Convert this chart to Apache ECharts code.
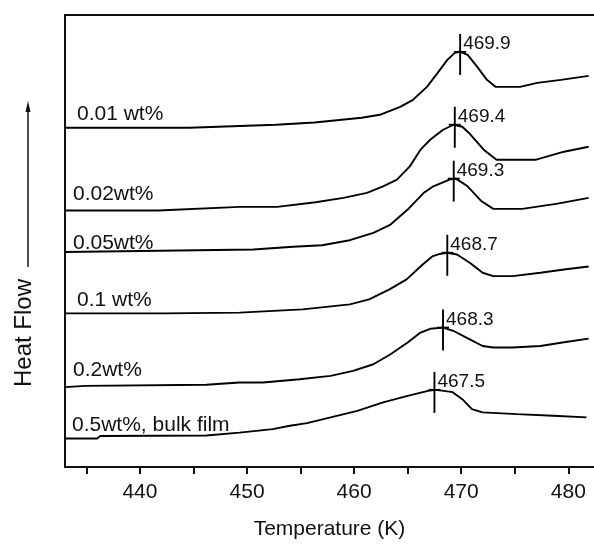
<!DOCTYPE html>
<html>
<head>
<meta charset="utf-8">
<script src="https://cdn.jsdelivr.net/npm/echarts@6/dist/echarts.min.js"></script>
<style>
  html, body { margin: 0; padding: 0; background: #fff; }
  #chart { width: 594px; height: 545px; }
</style>
</head>
<body>
<div id="chart"></div>
<script>
    // DSC traces, temperature (K) vs heat flow (arbitrary units, offset per trace)
    var curveNames = ['0.01 wt%', '0.02wt%', '0.05wt%', '0.1 wt%', '0.2wt%', '0.5wt%, bulk film'];

    var temp1 = [433.0, 444.6, 452.7, 456.3, 460.7, 462.4, 464.3, 465.5, 466.8, 467.8, 468.7, 469.4, 469.9, 470.6, 471.5, 472.4, 473.2, 475.5, 477.1, 479.3, 481.9];
    var flow1 = [340, 340, 343, 345.3, 350, 353, 361, 368, 381, 395, 408, 415, 416, 413, 401, 388, 381, 381, 385, 388, 392];

    var temp2 = [433.0, 441.7, 449.3, 452.8, 456.4, 459.0, 461.2, 462.7, 464.0, 465.2, 466.2, 467.1, 468.3, 469.3, 470.1, 470.7, 472.1, 473.3, 477.0, 479.6, 481.9];
    var flow2 = [257, 257, 260.7, 260.7, 265.3, 269.7, 274.7, 281.3, 288, 301.3, 318, 328, 338, 343, 341, 335, 318, 308, 308, 316, 321];

    var temp3 = [433.0, 450.6, 454.3, 457.0, 459.6, 461.8, 463.4, 465.0, 466.5, 467.4, 468.9, 469.5, 470.6, 471.9, 473.0, 475.7, 479.0, 481.9];
    var flow3 = [215.5, 218, 220.7, 222.3, 227.3, 234.7, 243, 258, 274.7, 281.3, 288, 289, 281.3, 266.3, 258.7, 258.7, 264, 269.7];

    var temp4 = [433.0, 442.3, 449.3, 455.2, 459.6, 461.4, 463.3, 464.9, 466.4, 467.3, 468.0, 468.7, 469.6, 470.8, 472.0, 473.0, 474.8, 477.4, 479.6, 481.9];
    var flow4 = [154, 154, 154.7, 158, 163, 168, 178, 188, 203, 211, 213.5, 214.7, 213, 204.7, 194.7, 191.3, 191.3, 194.7, 198, 201];

    var temp5 = [433.0, 434.9, 446.2, 449.3, 451.5, 454.9, 457.8, 459.9, 461.8, 463.4, 465.0, 466.2, 467.1, 468.3, 469.3, 470.8, 472.0, 473.0, 474.8, 477.4, 479.6, 481.9];
    var flow5 = [80, 81.3, 82.5, 84.7, 84.7, 88, 91.3, 96.3, 103, 113, 124.7, 134.7, 138.5, 139.7, 136.3, 128, 121.3, 119.7, 119.7, 121.3, 125, 128.7];

    var temp6 = [433.0, 436.0, 436.3, 446.2, 449.3, 452.4, 454.0, 455.6, 457.8, 460.3, 462.7, 465.0, 466.9, 467.6, 468.2, 469.2, 470.1, 471.0, 472.0, 475.2, 478.6, 481.7];
    var flow6 = [28.5, 28.5, 31, 31.5, 34.5, 38, 41.3, 44, 49.7, 56.3, 64.7, 71.3, 76.3, 77.3, 76.5, 75, 68, 58, 54.7, 53, 51.3, 49.7];

    // peak temperatures marked with a cross
    var peakTemps = [469.9, 469.4, 469.3, 468.7, 468.3, 467.5];
    var peakFlows = [416, 343, 289, 214.7, 139.7, 77.3];
    var peakLabels = ['469.9', '469.4', '469.3', '468.7', '468.3', '467.5'];

    var xTickValues = [435, 440, 445, 450, 455, 460, 465, 470, 475, 480];
    var xLabelValues = [440, 450, 460, 470, 480];

    var temps = [temp1, temp2, temp3, temp4, temp5, temp6];
    var flows = [flow1, flow2, flow3, flow4, flow5, flow6];

    // where the trace names sit (pixels)
    var namePos = [[77, 114], [73, 194], [73, 243], [77, 300], [73, 370], [72, 425]];

    var chart = echarts.init(document.getElementById('chart'), null, {renderer: 'canvas'});
    var font = '"Liberation Sans", Arial, sans-serif';

    var series = [];
    for (var i = 0; i < temps.length; i++) {
        var d = [];
        for (var j = 0; j < temps[i].length; j++) {
            d.push([temps[i][j], flows[i][j]]);
        }
        series.push({
            name: curveNames[i],
            type: 'line',
            data: d,
            showSymbol: false,
            silent: true,
            lineStyle: {color: '#000', width: 1.9},
            z: 3
        });
    }

    var peakData = [];
    for (var k = 0; k < peakTemps.length; k++) {
        peakData.push([peakTemps[k], peakFlows[k]]);
    }
    series.push({
        type: 'custom',
        data: peakData,
        z: 4,
        renderItem: function (params, api) {
            var p = api.coord([api.value(0), api.value(1)]);
            return {
                type: 'group',
                children: [
                    {type: 'line', shape: {x1: p[0], y1: p[1] - 18, x2: p[0], y2: p[1] + 23},
                        style: {stroke: '#000', lineWidth: 1.9}},
                    {type: 'line', shape: {x1: p[0] - 6, y1: p[1], x2: p[0] + 6, y2: p[1]},
                        style: {stroke: '#000', lineWidth: 1.9}},
                    {type: 'text', style: {text: peakLabels[params.dataIndex], x: p[0] + 3, y: p[1] - 8,
                        align: 'left', verticalAlign: 'middle', fill: '#111',
                        fontSize: 19, fontFamily: font}}
                ]
            };
        }
    });

    var graphics = [];
    for (var n = 0; n < curveNames.length; n++) {
        graphics.push({
            type: 'text',
            x: namePos[n][0],
            y: namePos[n][1],
            style: {text: curveNames[n], fill: '#111', fontSize: 21, fontFamily: font,
                align: 'left', verticalAlign: 'middle'}
        });
    }
    // y axis title with arrow
    graphics.push({
        type: 'text', x: 24, y: 333, rotation: Math.PI / 2,
        style: {text: 'Heat Flow', fill: '#111', fontSize: 24, fontFamily: font,
            align: 'center', verticalAlign: 'middle'}
    });
    graphics.push({
        type: 'line', shape: {x1: 28, y1: 267, x2: 28, y2: 110},
        style: {stroke: '#111', lineWidth: 1.5}
    });
    graphics.push({
        type: 'polygon', shape: {points: [[28, 101], [25.5, 112], [30.5, 112]]},
        style: {fill: '#111'}
    });

    var option = {
        animation: false,
        backgroundColor: '#fff',
        grid: {left: 65, right: 0, top: 15, bottom: 77},
        xAxis: [
            {
                type: 'value',
                min: 433,
                max: 482.4,
                position: 'bottom',
                name: 'Temperature (K)',
                nameLocation: 'middle',
                nameGap: 52,
                nameTextStyle: {color: '#111', fontSize: 21, fontFamily: font},
                axisLine: {show: true, onZero: false, lineStyle: {color: '#111', width: 2}},
                axisTick: {show: true, inside: false, length: 7, customValues: xTickValues,
                    lineStyle: {color: '#111', width: 2}},
                axisLabel: {show: true, customValues: xLabelValues, margin: 15,
                    color: '#111', fontSize: 21, fontFamily: font},
                splitLine: {show: false}
            },
            {
                type: 'value',
                min: 433,
                max: 482.4,
                position: 'top',
                axisLine: {show: true, onZero: false, lineStyle: {color: '#111', width: 2}},
                axisTick: {show: false},
                axisLabel: {show: false},
                splitLine: {show: false}
            }
        ],
        yAxis: {
            type: 'value',
            min: 0,
            max: 453,
            axisLine: {show: true, onZero: false, lineStyle: {color: '#111', width: 2}},
            axisTick: {show: false},
            axisLabel: {show: false},
            splitLine: {show: false}
        },
        graphic: graphics,
        series: series
    };

    chart.setOption(option);
</script>
</body>
</html>
